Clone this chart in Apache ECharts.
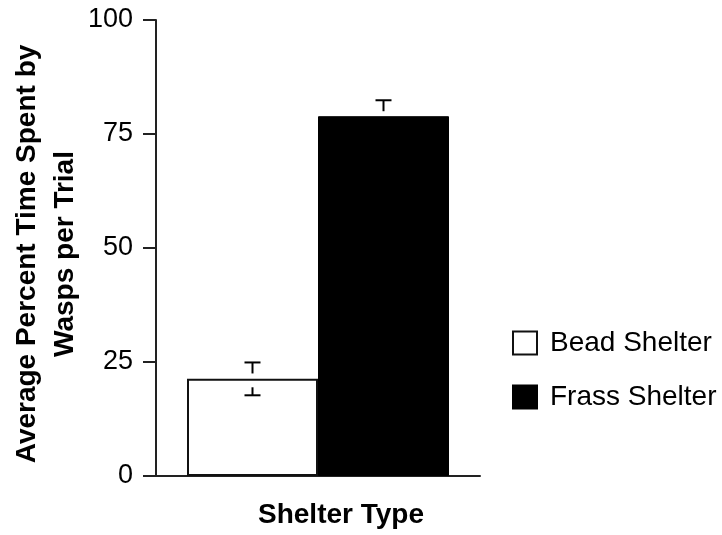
<!DOCTYPE html>
<html>
<head>
<meta charset="utf-8">
<script src="https://cdn.jsdelivr.net/npm/echarts@6/dist/echarts.min.js"></script>
<style>html,body{margin:0;padding:0;background:#fff}#c{width:722px;height:535px}</style>
</head>
<body>
<div id="c"></div>
<script>
var categories = [''];
var seriesNames = ['Bead Shelter', 'Frass Shelter'];
var beadMean = [21.3];
var beadErr = [3.6];
var frassMean = [78.9];
var frassErr = [3.5];
var yTicks = [0, 25, 50, 75, 100];

var FONT = '"Liberation Sans", Arial, Helvetica, sans-serif';
var BAR_W = 131;

function errRender(offsetSign, means, errs) {
  return function (params, api) {
    var i = api.value(0);
    var m = means[i], e = errs[i];
    var c = api.coord([i, m]);
    var x = c[0] + offsetSign * BAR_W / 2;
    var yTop = api.coord([i, m + e])[1];
    var yBot = api.coord([i, m - e])[1];
    var yMean = c[1];
    var cw = 8;
    var st = {stroke: '#000', lineWidth: 2};
    return {
      type: 'group',
      children: [
        {type: 'line', shape: {x1: x - cw, y1: yTop, x2: x + cw, y2: yTop}, style: st},
        {type: 'line', shape: {x1: x, y1: yTop, x2: x, y2: Math.min(yTop + 11, yMean - 5)}, style: st},
        {type: 'line', shape: {x1: x - cw, y1: yBot, x2: x + cw, y2: yBot}, style: st},
        {type: 'line', shape: {x1: x, y1: yBot, x2: x, y2: Math.max(yBot - 8, yMean + 6)}, style: st}
      ]
    };
  };
}

var chart = echarts.init(document.getElementById('c'));
chart.setOption({
  animation: false,
  backgroundColor: '#fff',
  textStyle: {fontFamily: FONT},
  grid: {left: 156, top: 20, right: 242, bottom: 59, containLabel: false, outerBoundsMode: 'none'},
  legend: {
    data: seriesNames,
    orient: 'vertical',
    left: 507,
    top: 324,
    itemWidth: 24,
    itemHeight: 23,
    itemGap: 26,
    icon: 'rect',
    textStyle: {fontSize: 28, color: '#000', fontFamily: FONT, padding: [0, 0, 0, 8]}
  },
  xAxis: {
    type: 'category',
    data: categories,
    name: 'Shelter Type',
    nameLocation: 'middle',
    nameGap: 25,
    nameTextStyle: {fontSize: 28, fontWeight: 'bold', color: '#000', padding: [0, 0, 0, 46]},
    axisLine: {lineStyle: {color: '#222', width: 2}},
    axisTick: {alignWithLabel: true, length: 10, lineStyle: {color: '#222', width: 2}},
    axisLabel: {show: false}
  },
  yAxis: {
    type: 'value',
    min: 0, max: 100, interval: 25,
    name: 'Average Percent Time Spent by\nWasps per Trial',
    nameLocation: 'middle',
    nameRotate: 90,
    nameGap: 67,
    nameTextStyle: {fontSize: 28, fontWeight: 'bold', color: '#000', lineHeight: 38, padding: [0, 12, 0, 0]},
    axisLine: {show: true, lineStyle: {color: '#222', width: 2}},
    axisTick: {show: true, length: 13, lineStyle: {color: '#222', width: 2}},
    axisLabel: {fontSize: 27, color: '#000', margin: 23, formatter: function (v) { return yTicks.indexOf(v) >= 0 ? String(v) : ''; }},
    splitLine: {show: false}
  },
  series: [
    {
      name: seriesNames[0], type: 'bar', data: beadMean, barWidth: BAR_W, barGap: '0%',
      itemStyle: {color: '#fff', borderColor: '#111', borderWidth: 2}
    },
    {
      name: seriesNames[1], type: 'bar', data: frassMean, barWidth: BAR_W, barGap: '0%',
      itemStyle: {color: '#000', borderColor: '#000', borderWidth: 1}
    },
    {
      type: 'custom', renderItem: errRender(-1, beadMean, beadErr),
      data: categories.map(function (c, i) { return [i]; }), z: 5, silent: true
    },
    {
      type: 'custom', renderItem: errRender(1, frassMean, frassErr),
      data: categories.map(function (c, i) { return [i]; }), z: 5, silent: true
    }
  ]
});
</script>
</body>
</html>
